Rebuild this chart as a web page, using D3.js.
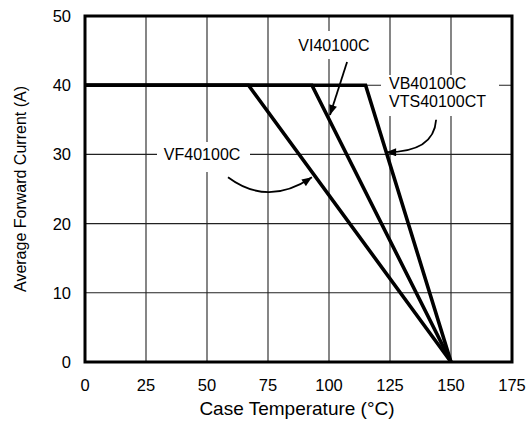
<!DOCTYPE html>
<html><head><meta charset="utf-8">
<script src="https://cdn.jsdelivr.net/npm/d3@7"></script>
<style>body{margin:0;background:#fff}svg{display:block}text{font-family:"Liberation Sans",Arial,sans-serif;fill:#000}</style>
</head><body><svg id="c" width="527" height="421"></svg>
<script>
const xTicks = [0, 25, 50, 75, 100, 125, 150, 175];
const yTicks = [0, 10, 20, 30, 40, 50];
const seriesNames = ["VF40100C", "VI40100C", "VB40100C"];
const vfTemp = [0, 67, 150];
const vfCurrent = [40, 40, 0];
const viTemp = [0, 93, 150];
const viCurrent = [40, 40, 0];
const vbTemp = [0, 115, 150];
const vbCurrent = [40, 40, 0];
const xLabel = "Case Temperature (°C)";
const yLabel = "Average Forward Current (A)";

const svg = d3.select("#c");
const L = 85, R = 512, T = 16, B = 362;
const x = d3.scaleLinear().domain([0, 175]).range([L, R]);
const y = d3.scaleLinear().domain([0, 50]).range([B, T]);

// grid
const g = svg.append("g");
g.selectAll("line.v").data(xTicks).join("line")
  .attr("x1", d => x(d)).attr("x2", d => x(d)).attr("y1", T).attr("y2", B)
  .attr("stroke", "#222").attr("stroke-width", 1.1);
g.selectAll("line.h").data(yTicks).join("line")
  .attr("y1", d => y(d)).attr("y2", d => y(d)).attr("x1", L).attr("x2", R)
  .attr("stroke", "#222").attr("stroke-width", 1.1);

// white label boxes (break gridlines)
const boxes = [
  [x.invert(157), y.invert(142), x.invert(250), y.invert(172)],
  [x.invert(294), y.invert(31), x.invert(376), y.invert(59)],
  [x.invert(381), y.invert(75), x.invert(499), y.invert(116)]
];
svg.selectAll("rect.bx").data(boxes).join("rect")
  .attr("x", d => x(d[0])).attr("y", d => y(d[1]))
  .attr("width", d => x(d[2]) - x(d[0])).attr("height", d => y(d[3]) - y(d[1]))
  .attr("fill", "#fff");

// data lines
const series = [
  {name: seriesNames[0], t: vfTemp, c: vfCurrent},
  {name: seriesNames[1], t: viTemp, c: viCurrent},
  {name: seriesNames[2], t: vbTemp, c: vbCurrent}
];
const line = d3.line().x(d => x(d[0])).y(d => y(d[1]));
svg.selectAll("path.s").data(series).join("path")
  .attr("d", s => line(s.t.map((t, i) => [t, s.c[i]])))
  .attr("fill", "none").attr("stroke", "#000").attr("stroke-width", 3.6)
  .attr("stroke-linejoin", "miter");

// border
svg.append("rect").attr("x", L).attr("y", T).attr("width", R - L).attr("height", B - T)
  .attr("fill", "none").attr("stroke", "#000").attr("stroke-width", 3);

// axes tick labels
svg.selectAll("text.xt").data(xTicks).join("text")
  .attr("x", d => x(d)).attr("y", 391).attr("text-anchor", "middle")
  .attr("font-size", 16.5).text(d => d);
svg.selectAll("text.yt").data(yTicks).join("text")
  .attr("x", 71).attr("y", d => y(d) + 6).attr("text-anchor", "end")
  .attr("font-size", 16.5).text(d => d);
svg.append("text").attr("x", 297).attr("y", 415).attr("text-anchor", "middle")
  .attr("font-size", 19).text(xLabel);
svg.append("text").attr("transform", `translate(26,${(T + B) / 2}) rotate(-90)`)
  .attr("text-anchor", "middle").attr("font-size", 16).text(yLabel);

// series labels
svg.append("text").attr("x", x(48)).attr("y", y(30) + 6).attr("text-anchor", "middle")
  .attr("font-size", 16).text(seriesNames[0]);
svg.append("text").attr("x", x(102)).attr("y", y(45.8) + 6).attr("text-anchor", "middle")
  .attr("font-size", 16).text(seriesNames[1]);
svg.append("text").attr("x", x(124.6)).attr("y", y(40) + 4).attr("font-size", 16).text(seriesNames[2]);
svg.append("text").attr("x", x(124.6)).attr("y", y(37.4) + 4).attr("font-size", 16).text("VTS40100CT");

// arrows
const defs = svg.append("defs");
defs.append("marker").attr("id", "ah").attr("viewBox", "0 0 10 8")
  .attr("refX", 10).attr("refY", 4).attr("markerWidth", 11).attr("markerHeight", 8)
  .attr("markerUnits", "userSpaceOnUse").attr("orient", "auto")
  .append("path").attr("d", "M0,0 L10,4 L0,8 Z").attr("fill", "#000");
const arrows = [
  [[58.6, 26.7], [75, 22.4], [93.0, 26.7]],
  [[107.4, 43.35], [103.9, 39.5], [100.4, 35.7]],
  [[143.9, 35.0], [143.0, 30.3], [123.4, 30.3]]
];
svg.selectAll("path.ar").data(arrows).join("path")
  .attr("d", a => `M${x(a[0][0])},${y(a[0][1])} Q${x(a[1][0])},${y(a[1][1])} ${x(a[2][0])},${y(a[2][1])}`)
  .attr("fill", "none").attr("stroke", "#000").attr("stroke-width", 1.8)
  .attr("marker-end", "url(#ah)");
</script></body></html>
